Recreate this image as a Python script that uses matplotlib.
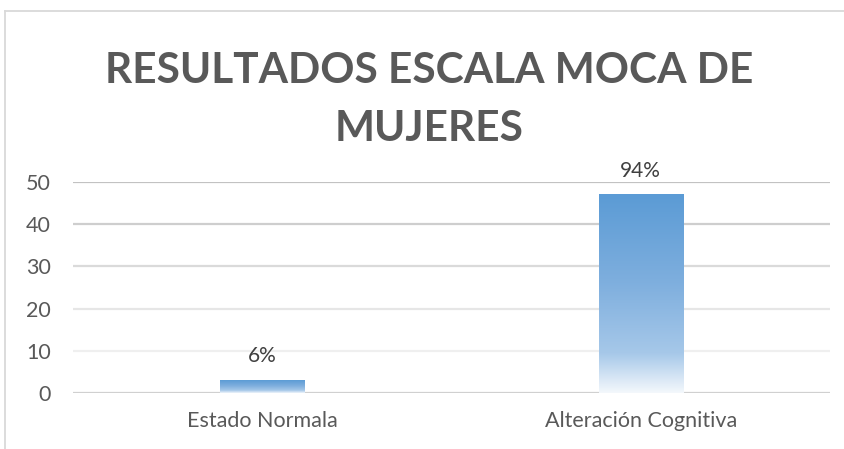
import numpy as np
import matplotlib.pyplot as plt
from matplotlib.colors import LinearSegmentedColormap
from matplotlib.lines import Line2D

categories = ["Estado Normala", "Alteración Cognitiva"]
values = [3, 47]
value_labels = ["6%", "94%"]
y_ticks = [0, 10, 20, 30, 40, 50]

title = "RESULTADOS ESCALA MOCA DE\nMUJERES"

W, H, DPI = 845, 449, 100
fig = plt.figure(figsize=(W / DPI, H / DPI), dpi=DPI)
fig.patch.set_facecolor("white")

# outer chart border (top and left edges visible)
border_color = "#D9D9D9"
fig.add_artist(Line2D([5 / W, 1.0], [1 - 11 / H, 1 - 11 / H], color=border_color, lw=1.3,
                      transform=fig.transFigure))
fig.add_artist(Line2D([5.5 / W, 5.5 / W], [0, 1 - 11 / H], color=border_color, lw=1.3,
                      transform=fig.transFigure))

ax_left, ax_right = 73 / W, 830 / W
ax_bottom, ax_top = 1 - 393 / H, 1 - 182 / H
ax = fig.add_axes([ax_left, ax_bottom, ax_right - ax_left, ax_top - ax_bottom])
ax.set_facecolor("none")

x = np.arange(len(categories))
bar_w = 0.222
bars = ax.bar(x, values, width=bar_w, color="none", edgecolor="none", zorder=3)

# vertical gradient fill: white at the base, blue at the top
grad = LinearSegmentedColormap.from_list(
    "bar_grad",
    [(0.0, "#F4F8FC"), (0.2, "#A6C8E9"), (0.55, "#7FAFDE"), (1.0, "#5B9BD5")],
)
g = np.linspace(0, 1, 256).reshape(-1, 1)
for b in bars:
    x0, w, h = b.get_x(), b.get_width(), b.get_height()
    ax.imshow(g, cmap=grad, aspect="auto", origin="lower",
              extent=[x0, x0 + w, 0, h], zorder=3, interpolation="bicubic")

for b, lab in zip(bars, value_labels):
    ax.annotate(lab, (b.get_x() + b.get_width() / 2, b.get_height()),
                xytext=(0, 10), textcoords="offset points", ha="center", va="bottom",
                fontsize=15, color="#404040", family="Lato")

ax.set_xlim(-0.5, len(categories) - 0.5)
ax.set_ylim(0, 50)

# gridlines with fading tones
grid_colors = ["#D0D0D0", "#EFEFEF", "#E6E6E6", "#DADADA", "#CECECE", "#C2C2C2"]
for yv, c in zip(y_ticks, grid_colors):
    ax.axhline(yv, color=c, lw=1.6, zorder=1)

ax.set_yticks(y_ticks)
ax.set_yticklabels([str(v) for v in y_ticks])
ax.set_xticks(x)
ax.set_xticklabels(categories)
ax.tick_params(axis="both", length=0, labelsize=15.5, labelcolor="#595959")
ax.tick_params(axis="y", pad=16)
ax.tick_params(axis="x", pad=13)
for lab in ax.get_xticklabels() + ax.get_yticklabels():
    lab.set_family("Lato")
for s in ax.spines.values():
    s.set_visible(False)

fig.text(429 / W, 1 - 100 / H, title, ha="center", va="center",
         fontsize=30.5, fontweight="bold", color="#595959", family="Lato",
         linespacing=1.65)

fig.savefig("out.png", dpi=DPI, facecolor="white")
